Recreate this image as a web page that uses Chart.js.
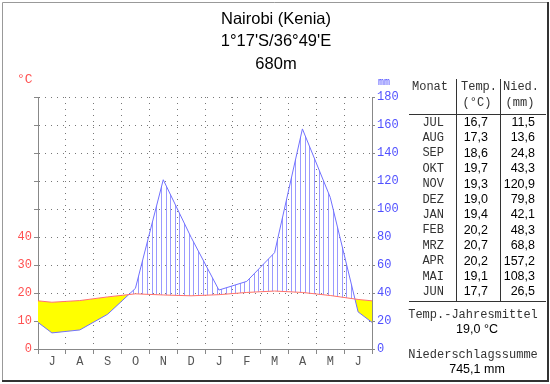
<!DOCTYPE html>
<html>
<head>
<meta charset="utf-8">
<script src="https://cdn.jsdelivr.net/npm/chart.js@4/dist/chart.umd.min.js"></script>
<style>
  body { margin: 0; background: #fff; }
  #wrap { width: 550px; height: 384px; }
</style>
</head>
<body>
<div id="wrap"><canvas id="myChart" width="550" height="384"></canvas></div>
<script>
// Klimadiagramm Nairobi - Werte aus der Tabelle
const monthLetters = ['J', 'A', 'S', 'O', 'N', 'D', 'J', 'F', 'M', 'A', 'M', 'J'];
const monthNames = ['JUL', 'AUG', 'SEP', 'OKT', 'NOV', 'DEZ', 'JAN', 'FEB', 'MRZ', 'APR', 'MAI', 'JUN'];
const tempValues = [16.7, 17.3, 18.6, 19.7, 19.3, 19.0, 19.4, 20.2, 20.7, 20.2, 19.1, 17.7];
const precipValues = [11.5, 13.6, 24.8, 43.3, 120.9, 79.8, 42.1, 48.3, 68.8, 157.2, 108.3, 26.5];
const tempTicks = [0, 10, 20, 30, 40];
const precipTicks = [0, 20, 40, 60, 80, 100, 120, 140, 160, 180];
const title = ['Nairobi (Kenia)', "1°17'S/36°49'E", '680m'];
const meanTemp = '19,0 °C';
const sumPrecip = '745,1 mm';

const MONO = '"Liberation Mono", "DejaVu Sans Mono", monospace';
const SANS = '"Liberation Sans", Arial, sans-serif';

// Punkte in der Monatsmitte, am Rand Übergang Jun/Jul
function toPoints(vals) {
    const edge = (vals[0] + vals[vals.length - 1]) / 2;
    const pts = [{ x: 0, y: edge }];
    vals.forEach((v, i) => pts.push({ x: i + 0.5, y: v }));
    pts.push({ x: 12, y: edge });
    return pts;
}

function fmt(v) {
    return v.toFixed(1).replace('.', ',');
}

// y auf Polylinie bei Pixel x
function yAt(points, px) {
    for (let i = 0; i < points.length - 1; i++) {
        const a = points[i], b = points[i + 1];
        if (px >= a.x && px <= b.x) {
            const t = b.x === a.x ? 0 : (px - a.x) / (b.x - a.x);
            return a.y + t * (b.y - a.y);
        }
    }
    return null;
}

const hatchPlugin = {
    id: 'hatch',
    beforeDatasetsDraw(chart) {
        const tPts = chart.getDatasetMeta(0).data;
        const pPts = chart.getDatasetMeta(1).data;
        const xs = chart.scales.x;
        const ctx = chart.ctx;
        ctx.save();
        ctx.strokeStyle = '#9a9aff';
        ctx.lineWidth = 1;
        for (let j = 0; j < 72; j++) {
            const px = Math.round(xs.getPixelForValue((j + 0.5) / 6)) + 0.5;
            const yt = yAt(tPts, px);
            const yp = yAt(pPts, px);
            if (yt === null || yp === null) continue;
            if (yp < yt - 0.5) {
                ctx.beginPath();
                ctx.moveTo(px, yt);
                ctx.lineTo(px, yp);
                ctx.stroke();
            }
        }
        ctx.restore();
    }
};

const textPlugin = {
    id: 'texts',
    afterDraw(chart) {
        const ctx = chart.ctx;
        ctx.save();
        // Rahmen
        ctx.strokeStyle = '#999';
        ctx.lineWidth = 1;
        ctx.beginPath();
        ctx.moveTo(2.5, 381);
        ctx.lineTo(2.5, 2.5);
        ctx.lineTo(547, 2.5);
        ctx.stroke();
        ctx.strokeStyle = '#333';
        ctx.lineWidth = 2;
        ctx.beginPath();
        ctx.moveTo(2, 381);
        ctx.lineTo(548, 381);
        ctx.lineTo(548, 2);
        ctx.stroke();

        // Titel
        ctx.fillStyle = '#000';
        ctx.font = '16.5px ' + SANS;
        ctx.textAlign = 'center';
        ctx.textBaseline = 'middle';
        title.forEach((t, i) => ctx.fillText(t, 276, 19 + i * 22.5));

        // Einheiten
        ctx.font = '13px ' + MONO;
        ctx.fillStyle = '#ff5050';
        ctx.textAlign = 'left';
        ctx.fillText('°C', 17, 80);
        ctx.font = '10px ' + MONO;
        ctx.fillStyle = '#5050ff';
        ctx.fillText('mm', 378, 82);

        // Tabelle
        ctx.strokeStyle = '#333';
        ctx.lineWidth = 1;
        ctx.beginPath();
        ctx.moveTo(456.5, 79); ctx.lineTo(456.5, 301);
        ctx.moveTo(500.5, 79); ctx.lineTo(500.5, 301);
        ctx.moveTo(409, 114.5); ctx.lineTo(546, 114.5);
        ctx.moveTo(409, 301.5); ctx.lineTo(546, 301.5);
        ctx.stroke();

        ctx.fillStyle = '#333';
        ctx.font = '12px ' + MONO;
        ctx.textAlign = 'left';
        ctx.fillText('Monat', 412, 87);
        ctx.fillText('Temp.', 461, 87);
        ctx.fillText('Nied.', 503, 87);
        ctx.textAlign = 'center';
        ctx.fillText('(°C)', 477, 103);
        ctx.fillText('(mm)', 520, 103);

        const rowY = i => 122.5 + i * 15.4;
        ctx.textAlign = 'right';
        monthNames.forEach((m, i) => ctx.fillText(m, 444, rowY(i)));
        ctx.fillStyle = '#000';
        ctx.font = '12.5px ' + SANS;
        tempValues.forEach((v, i) => ctx.fillText(fmt(v), 488, rowY(i)));
        precipValues.forEach((v, i) => ctx.fillText(fmt(v), 535, rowY(i)));

        ctx.textAlign = 'center';
        ctx.fillStyle = '#333';
        ctx.font = '12px ' + MONO;
        ctx.fillText('Temp.-Jahresmittel', 473, 315);
        ctx.fillText('Niederschlagssumme', 473, 355);
        ctx.fillStyle = '#000';
        ctx.font = '12.5px ' + SANS;
        ctx.fillText(meanTemp, 477, 330);
        ctx.fillText(sumPrecip, 477, 370);
        ctx.restore();
    }
};

const ctx = document.getElementById('myChart').getContext('2d');
new Chart(ctx, {
    type: 'line',
    data: {
        datasets: [{
            label: 'Temperatur',
            data: toPoints(tempValues),
            xAxisID: 'x',
            yAxisID: 'yT',
            borderColor: '#ff7070',
            borderWidth: 1,
            pointRadius: 0,
            tension: 0,
            fill: false,
            order: 0
        }, {
            label: 'Niederschlag',
            data: toPoints(precipValues),
            xAxisID: 'x',
            yAxisID: 'yP',
            borderColor: '#7070ff',
            borderWidth: 1,
            pointRadius: 0,
            tension: 0,
            fill: { target: 0, above: 'rgba(0,0,0,0)', below: '#ffff00' },
            order: 1
        }]
    },
    options: {
        responsive: false,
        animation: false,
        devicePixelRatio: 1,
        layout: { padding: { left: 0, right: 0, top: 97, bottom: 0 } },
        plugins: {
            legend: { display: false },
            tooltip: { enabled: false },
            filler: { drawTime: 'beforeDatasetsDraw' }
        },
        scales: {
            x: {
                type: 'linear',
                min: 0,
                max: 12,
                afterFit: s => { s.height = 35; },
                ticks: {
                    stepSize: 1,
                    autoSkip: false,
                    maxRotation: 0,
                    labelOffset: 14,
                    padding: 1,
                    color: '#555',
                    font: { family: MONO, size: 12 },
                    callback: v => (v < 12 ? monthLetters[v] : '')
                },
                grid: { color: '#777', tickColor: '#888', tickLength: 5, tickBorderDash: [] },
                border: { color: '#888', dash: [1, 5] }
            },
            yT: {
                position: 'left',
                min: 0,
                max: 90,
                afterFit: s => { s.width = 38; },
                afterBuildTicks: s => { s.ticks = [0, 10, 20, 30, 40, 50, 60, 70, 80, 90].map(v => ({ value: v })); },
                ticks: {
                    padding: 2,
                    color: '#ff5050',
                    font: { family: MONO, size: 12 },
                    callback: v => (tempTicks.includes(v) ? String(v) : '')
                },
                grid: { color: '#777', tickColor: '#888', tickLength: 4, tickBorderDash: [] },
                border: { color: '#888', dash: [1, 5] }
            },
            yP: {
                position: 'right',
                min: 0,
                max: 180,
                afterFit: s => { s.width = 178; },
                afterBuildTicks: s => { s.ticks = precipTicks.map(v => ({ value: v })); },
                ticks: {
                    padding: 2,
                    color: '#5050ff',
                    font: { family: MONO, size: 12 },
                    callback: v => String(v)
                },
                grid: { drawOnChartArea: false, color: '#888', tickLength: 3 },
                border: { color: '#888' }
            }
        }
    },
    plugins: [hatchPlugin, textPlugin]
});
</script>
</body>
</html>
